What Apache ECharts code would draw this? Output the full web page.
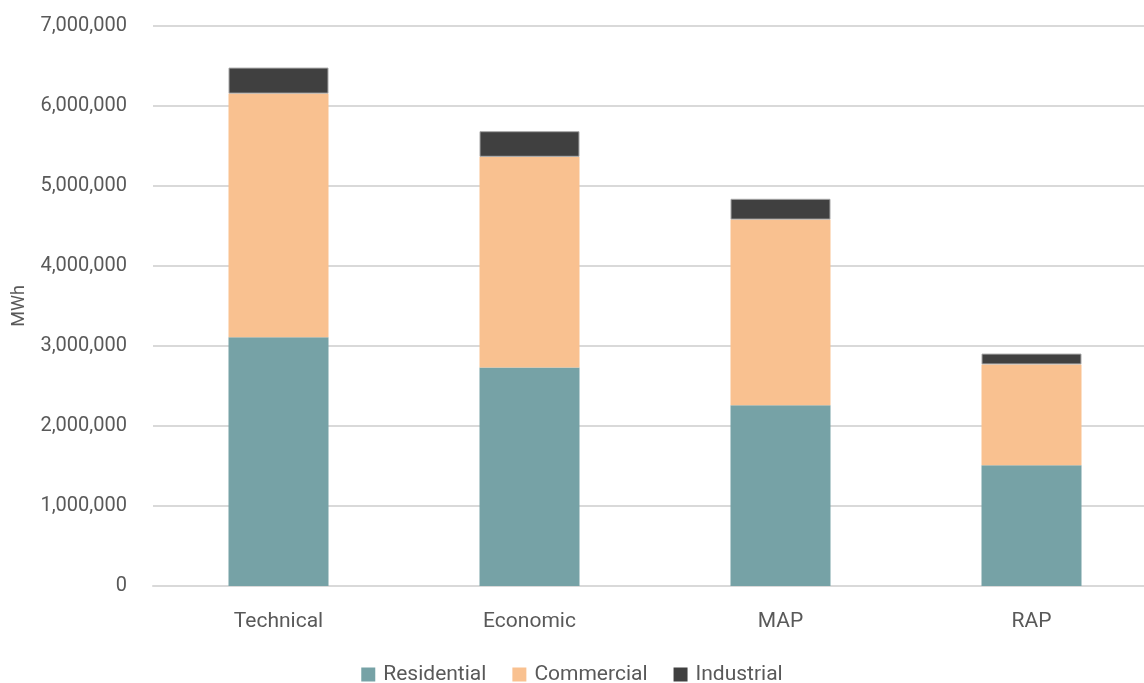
<!DOCTYPE html>
<html>
<head>
<meta charset="utf-8">
<script src="https://cdn.jsdelivr.net/npm/echarts@6/dist/echarts.min.js"></script>
<style>
  html, body { margin: 0; padding: 0; background: #fff; }
  #chart { width: 1144px; height: 683px; }
</style>
</head>
<body>
<div id="chart"></div>
<script>
// Savings potential by scenario (MWh), stacked by sector
const categories = ['Technical', 'Economic', 'MAP', 'RAP'];
const residential = [3110000, 2730000, 2260000, 1510000];
const commercial  = [3045000, 2635000, 2320000, 1260000];
const industrial  = [325000, 320000, 260000, 135000];
const yTicks = { min: 0, max: 7000000, interval: 1000000 };

const FONT = '"Liberation Sans Narrow", "Roboto", sans-serif';
const TEXT = '#595959';

const chart = echarts.init(document.getElementById('chart'), null, { renderer: 'canvas' });

function barSeries(name, data, color, border) {
  return {
    name: name,
    type: 'bar',
    stack: 'total',
    data: data,
    barWidth: 100,
    itemStyle: border ? { color: color, borderColor: border, borderWidth: 1 } : { color: color },
    emphasis: { disabled: true }
  };
}

chart.setOption({
  animation: false,
  textStyle: { fontFamily: FONT },
  grid: {
    left: 153, right: -13, top: 26, bottom: 97,
    containLabel: false, outerBoundsMode: 'none'
  },
  legend: {
    top: 659,
    left: 'center',
    itemWidth: 14,
    itemHeight: 14,
    itemGap: 26,
    icon: 'rect',
    itemStyle: { borderWidth: 0 },
    textStyle: { color: TEXT, fontSize: 21, fontFamily: FONT, padding: [0, 0, 0, 3] },
    data: ['Residential', 'Commercial', 'Industrial']
  },
  xAxis: {
    type: 'category',
    data: categories,
    axisTick: { show: false },
    axisLine: { show: true, lineStyle: { color: '#d9d9d9', width: 2 } },
    axisLabel: { color: TEXT, fontSize: 21, fontFamily: FONT, margin: 25 }
  },
  yAxis: {
    type: 'value',
    min: yTicks.min,
    max: yTicks.max,
    interval: yTicks.interval,
    name: 'MWh',
    nameLocation: 'middle',
    nameGap: 125,
    nameRotate: 90,
    nameTextStyle: { color: TEXT, fontSize: 18, fontFamily: FONT },
    axisLine: { show: false },
    axisTick: { show: false },
    axisLabel: {
      color: TEXT, fontSize: 20, fontFamily: FONT, margin: 26,
      formatter: v => v.toLocaleString('en-US')
    },
    splitLine: { lineStyle: { color: '#d9d9d9', width: 2 } }
  },
  series: [
    barSeries('Residential', residential, '#76a2a6'),
    barSeries('Commercial', commercial, '#f9c190'),
    barSeries('Industrial', industrial, '#404040', '#a6a6a6')
  ]
});
</script>
</body>
</html>
